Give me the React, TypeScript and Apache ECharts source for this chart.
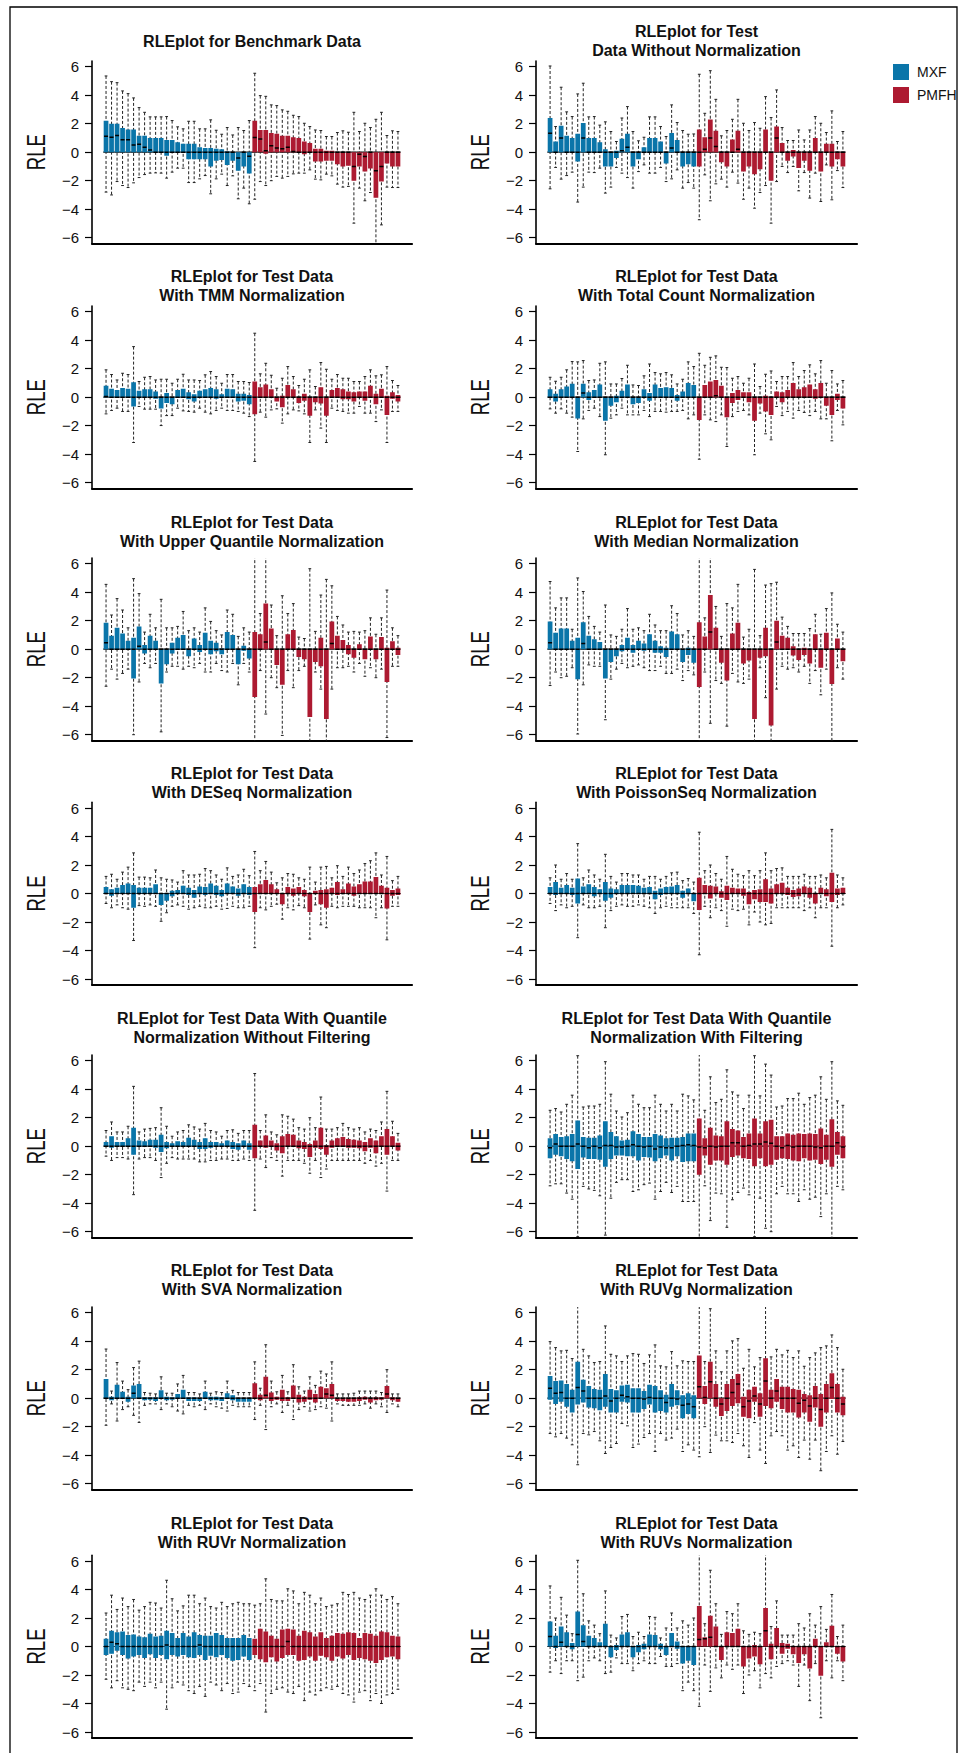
import React, { useEffect, useRef } from 'react';
import * as echarts from 'echarts';

// ---------- data: each box is [min, Q1, median, Q3, max]; first 27 = MXF, last 27 = PMFH ----------
const groups = ['MXF', 'PMFH'];
const MXF_COUNT = 27;
const yTicks = [-6, -4, -2, 0, 2, 4, 6];
const yLabel = 'RLE';

const titles: string[][] = [
  ['RLEplot for Benchmark Data'],
  ['RLEplot for Test', 'Data Without Normalization'],
  ['RLEplot for Test Data', 'With TMM Normalization'],
  ['RLEplot for Test Data', 'With Total Count Normalization'],
  ['RLEplot for Test Data', 'With Upper Quantile Normalization'],
  ['RLEplot for Test Data', 'With Median Normalization'],
  ['RLEplot for Test Data', 'With DESeq Normalization'],
  ['RLEplot for Test Data', 'With PoissonSeq Normalization'],
  ['RLEplot for Test Data With Quantile', 'Normalization Without Filtering'],
  ['RLEplot for Test Data With Quantile', 'Normalization With Filtering'],
  ['RLEplot for Test Data', 'With SVA Normalization'],
  ['RLEplot for Test Data', 'With RUVg Normalization'],
  ['RLEplot for Test Data', 'With RUVr Normalization'],
  ['RLEplot for Test Data', 'With RUVs Normalization'],
];

const benchmark = [
  [-2.8, 0, 1.12, 2.2, 5.35], [-3.0, 0, 1.05, 2.0, 4.95], [-2.06, 0, 1.17, 2.0, 4.88], [-2.34, 0, 0.87, 1.7, 4.3],
  [-2.48, 0, 0.87, 1.6, 4.11], [-2.15, 0, 0.5, 1.6, 3.81], [-1.78, 0, 0.55, 1.15, 3.13], [-1.57, 0, 0.35, 1.15, 2.8],
  [-1.47, 0, 0.15, 1.0, 2.48], [-1.45, 0, 0, 1.0, 2.48], [-1.47, 0, 0, 1.0, 2.48], [-1.82, -0.25, 0, 0.85, 2.5],
  [-1.4, 0, 0, 0.85, 2.22], [-1.12, 0, 0, 0.7, 1.78], [-1.12, 0, 0, 0.6, 1.64], [-2.13, -0.5, 0, 0.6, 2.17],
  [-2.13, -0.5, 0, 0.6, 2.17], [-1.87, -0.5, 0, 0.35, 1.64], [-1.64, -0.5, 0, 0.3, 1.64], [-2.92, -1.0, 0, 0.3, 2.27],
  [-1.87, -0.6, 0, 0.25, 1.54], [-1.54, -0.55, 0, 0.2, 1.26], [-2.34, -0.9, 0, 0.05, 1.73], [-1.66, -0.6, 0, 0, 1.21],
  [-3.27, -1.3, -0.4, 0, 1.73], [-2.52, -1.0, 0, 0, 1.52], [-3.62, -1.5, -0.28, 0, 2.22],
  [-3.3, 0, 1.03, 2.2, 5.54], [-2.06, 0, 0.93, 1.55, 3.97], [-2.34, -0.1, 0.1, 1.55, 3.92], [-2.0, 0, 0.45, 1.35, 3.32],
  [-1.7, 0, 0.3, 1.3, 3.27], [-1.82, 0, 0.25, 1.15, 2.97], [-1.7, 0, 0.35, 1.15, 2.87], [-1.52, 0, 0.05, 1.05, 2.59],
  [-1.47, 0, 0, 1.0, 2.5], [-1.47, -0.15, 0, 0.75, 2.03], [-1.24, 0, 0, 0.65, 1.8], [-1.89, -0.65, 0, 0.25, 1.56],
  [-1.94, -0.65, 0, 0.25, 1.52], [-1.54, -0.6, 0, 0.1, 1.1], [-1.66, -0.6, 0, 0.1, 1.1], [-2.24, -0.85, 0, 0, 1.38],
  [-2.45, -1.0, 0, 0, 1.5], [-2.4, -0.95, 0, 0, 1.4], [-4.98, -2.0, -1.0, 0, 2.8], [-2.52, -1.0, -0.15, 0, 1.45],
  [-3.41, -1.35, -0.3, 0, 2.03], [-2.83, -1.15, 0, 0, 1.73], [-6.6, -3.2, -1.3, 0, 2.31], [-5.1, -2.05, -1.0, 0, 2.8],
  [-2.45, -0.8, 0, 0, 1.17], [-2.48, -1.0, 0, 0, 1.5], [-2.48, -1.0, 0, 0, 1.45],
];

const noNormalization = [
  [-2.57, 0, 1.33, 2.4, 6.05], [-1.07, 0, 0, 0.75, 1.8], [-1.89, 0, 1.0, 1.85, 4.56], [-1.64, 0, 0, 1.15, 2.83],
  [-1.4, 0, 0, 1.0, 2.5], [-3.5, -0.65, 0, 1.3, 4.09], [-2.45, 0, 1.0, 2.05, 4.84], [-1.4, 0, 0, 1.0, 2.48],
  [-1.43, 0, 0, 1.0, 2.5], [-1.12, 0, 0, 0.7, 1.9], [-2.87, -1.0, 0, 0.2, 2.13], [-2.45, -1.0, 0, 0, 1.45],
  [-1.07, -0.4, 0, 0.1, 0.75], [-1.47, 0, 0.1, 0.95, 2.4], [-1.78, 0, 0.35, 1.3, 3.2], [-2.52, -1.0, 0, 0, 1.45],
  [-1.36, -0.5, 0, 0, 0.8], [-0.89, 0, 0, 0.35, 1.05], [-1.47, 0, 0, 1.0, 2.48], [-1.47, 0, 0, 1.0, 2.48],
  [-1.07, 0, 0, 0.75, 1.8], [-2.06, -0.8, 0, 0, 1.1], [-1.87, 0, 0.3, 1.35, 3.32], [-1.24, 0, 0, 0.85, 2.08],
  [-2.52, -1.0, 0, 0, 1.52], [-2.13, -0.85, 0, 0, 1.26], [-2.52, -1.0, 0, 0, 1.28],
  [-4.74, -1.0, 0, 1.6, 5.47], [-1.59, 0, 0.2, 1.05, 2.73], [-3.41, 0, 1.0, 2.3, 5.72], [-2.22, 0, 0.4, 1.5, 3.71],
  [-1.89, -0.7, 0, 0, 1.15], [-2.45, -1.0, 0, 0, 1.52], [-1.4, 0, 0, 0.9, 2.31], [-2.17, 0, 0.2, 1.5, 3.71],
  [-3.3, -1.35, 0, 0, 2.03], [-2.52, -1.0, 0, 0, 1.52], [-3.93, -1.55, 0, 0, 2.08], [-2.83, -1.2, 0, 0, 1.68],
  [-2.34, 0, 0, 1.6, 3.9], [-4.98, -2.0, 0, 0, 2.43], [-2.06, 0, 1.0, 1.8, 4.37], [-1.0, 0, 0, 0.65, 1.73],
  [-1.43, -0.6, 0, 0, 0.82], [-1.0, -0.3, 0, 0.15, 0.82], [-2.71, -1.1, 0, 0, 1.56], [-1.43, -0.6, 0, 0, 0.86],
  [-3.22, -1.3, 0, 0, 1.56], [-1.47, 0, 0, 1.0, 2.5], [-3.46, -1.35, 0, 0, 2.03], [-0.89, 0, 0, 0.6, 1.38],
  [-3.34, -1.0, 0, 0.6, 2.9], [-1.29, -0.5, 0, 0, 0.75], [-2.48, -1.0, 0, 0, 1.45],
];

const tmm = [
  [-1.17, 0, 0.05, 0.8, 1.92], [-0.93, 0, 0, 0.6, 1.59], [-0.77, 0, 0, 0.5, 1.21], [-1.0, 0, 0, 0.65, 1.68],
  [-1.0, 0, 0, 0.6, 1.59], [-3.18, -0.65, 0, 1.05, 3.55], [-0.65, 0, 0, 0.45, 1.1], [-0.84, 0, 0, 0.55, 1.4],
  [-0.84, 0, 0, 0.55, 1.45], [-0.84, -0.1, 0, 0.4, 1.21], [-1.99, -0.8, 0, 0, 1.26], [-1.29, -0.4, 0, 0.3, 1.26],
  [-1.29, -0.5, 0, 0, 0.98], [-0.77, 0, 0, 0.5, 1.26], [-0.96, 0, 0, 0.6, 1.61], [-1.0, -0.15, 0, 0.35, 1.21],
  [-1.05, -0.3, 0, 0.2, 1.21], [-0.77, 0, 0, 0.45, 1.17], [-1.05, 0, 0, 0.55, 1.57], [-1.17, 0, 0, 0.65, 1.8],
  [-0.93, -0.1, 0, 0.55, 1.45], [-0.77, 0, 0, 0.2, 0.98], [-0.93, 0, 0, 0.6, 1.59], [-0.93, 0, 0, 0.55, 1.59],
  [-1.0, -0.3, 0, 0.25, 1.1], [-1.12, -0.25, 0, 0.25, 1.1], [-1.36, -0.5, 0, 0.15, 1.03],
  [-4.51, -1.2, 0, 1.1, 4.49], [-1.05, 0, 0, 0.7, 1.64], [-1.4, 0, 0, 0.9, 2.38], [-0.89, 0, 0, 0.55, 1.54],
  [-0.82, -0.3, 0, 0, 0.63], [-1.82, -0.7, 0, 0.1, 1.33], [-1.17, 0, 0, 0.85, 2.15], [-0.89, 0, 0, 0.55, 1.45],
  [-0.96, -0.4, 0, 0, 0.82], [-1.17, -0.25, 0, 0.25, 1.26], [-3.18, -1.3, 0, 0, 1.92], [-0.89, -0.35, 0, 0, 0.75],
  [-2.17, -0.45, 0, 0.7, 2.43], [-3.18, -1.3, 0, 0, 1.96], [-0.77, 0, 0, 0.5, 1.26], [-0.93, 0, 0, 0.65, 1.59],
  [-1.0, -0.15, 0, 0.55, 1.33], [-1.12, -0.15, 0, 0.4, 1.33], [-1.12, -0.3, 0, 0.35, 1.1], [-0.65, 0, 0, 0.4, 1.1],
  [-1.12, -0.25, 0, 0.4, 1.45], [-1.12, 0, 0, 0.8, 1.92], [-1.71, -0.5, 0, 0.25, 1.5], [-0.89, 0, 0, 0.6, 1.57],
  [-3.18, -1.25, 0, 0.1, 2.15], [-1.0, -0.1, 0, 0.35, 1.17], [-1.0, -0.3, 0, 0.15, 0.82],
];

const totalCount = [
  [-0.82, 0, 0, 0.55, 1.4], [-1.12, -0.3, 0, 0.25, 1.12], [-0.82, 0, 0, 0.55, 1.4], [-1.12, 0, 0, 0.75, 1.92],
  [-1.4, 0, 0, 0.95, 2.5], [-3.81, -1.5, 0, 0, 2.48], [-1.52, 0, 0.3, 0.95, 2.57], [-0.93, -0.2, 0, 0.35, 1.17],
  [-0.77, 0, 0, 0.5, 1.21], [-1.36, 0, 0, 0.9, 2.38], [-4.04, -1.65, 0, 0, 2.48], [-1.47, -0.6, 0, 0, 0.93],
  [-1.24, -0.35, 0, 0.1, 0.93], [-0.77, 0, 0, 0.45, 1.31], [-1.24, 0, 0, 0.9, 2.24], [-1.24, -0.5, 0, 0, 0.86],
  [-1.24, -0.4, 0, 0, 0.82], [-0.93, 0, 0, 0.55, 1.5], [-1.36, -0.25, 0, 0.3, 2.33], [-1.0, 0, 0, 0.9, 1.73],
  [-1.0, 0, 0, 0.65, 1.64], [-1.05, 0, 0, 0.7, 1.73], [-1.0, 0, 0, 0.65, 1.57], [-1.0, -0.25, 0, 0.15, 0.93],
  [-0.93, 0, 0, 0.4, 1.26], [-1.52, 0, 0, 1.0, 2.48], [-1.24, 0, 0, 0.85, 2.15],
  [-4.35, -1.6, 0, 0, 3.08], [-1.24, 0, 0, 0.85, 2.24], [-1.59, 0, 0, 1.1, 2.8], [-1.71, 0, 0.1, 1.2, 2.9],
  [-1.24, 0, 0, 0.8, 2.1], [-3.46, -1.4, 0, 0, 2.08], [-1.36, -0.4, 0, 0.3, 1.33], [-1.0, -0.2, 0, 0.5, 1.45],
  [-0.93, 0, 0, 0.35, 0.98], [-1.24, -0.35, 0, 0.35, 1.33], [-4.04, -1.65, 0, 0, 2.33], [-1.12, -0.45, 0, 0, 0.75],
  [-2.57, -1.0, 0, 0.1, 1.61], [-2.99, -1.25, 0, 0, 1.84], [-0.65, 0, 0, 0.4, 1.1], [-1.29, -0.35, 0, 0.35, 1.45],
  [-1.0, 0, 0, 0.5, 1.45], [-1.47, 0, 0, 1.0, 2.43], [-0.93, 0, 0, 0.55, 1.45], [-1.07, 0, 0, 0.7, 1.87],
  [-1.29, 0, 0, 0.9, 2.27], [-1.0, -0.1, 0, 0.55, 1.64], [-1.52, 0, 0, 1.0, 2.57], [-1.52, -0.6, 0, 0, 0.98],
  [-3.06, -1.25, 0, 0, 1.87], [-0.93, -0.2, 0, 0.25, 0.93], [-1.94, -0.8, 0, 0, 1.17],
];

const upperQuantile = [
  [-2.6, 0, 0.45, 1.85, 4.55], [-1.4, 0, 0, 0.95, 2.4], [-2.1, 0, 0, 1.5, 3.55], [-1.7, 0, 0, 1.1, 2.75],
  [-1.4, 0, 0, 0.6, 1.5], [-6.0, -2.05, 0, 0.8, 4.95], [-2.3, 0, 0.2, 1.6, 3.9], [-1.0, -0.3, 0, 0.3, 1.2],
  [-1.3, 0, 0, 0.95, 2.45], [-1.0, 0, 0, 0.6, 1.5], [-5.8, -2.4, 0, 0, 3.5], [-1.6, -1.05, 0, 0, 1.5],
  [-1.2, -0.3, 0, 0.45, 1.5], [-1.2, 0, 0, 0.8, 1.6], [-1.4, 0, 0, 1.0, 2.65], [-1.2, -0.5, 0, 0, 1.3],
  [-1.3, 0, 0, 0.75, 1.5], [-1.0, -0.2, 0, 0.3, 1.2], [-1.6, 0, 0, 1.15, 2.9], [-1.6, -0.35, 0, 0.6, 1.95],
  [-1.0, -0.15, 0, 0.45, 1.3], [-1.5, -0.35, 0, 0.05, 1.0], [-1.6, 0, 0, 1.2, 2.75], [-1.0, 0, 0, 1.0, 2.45],
  [-2.5, -1.05, 0, 0, 0.9], [-1.0, -0.1, 0, 0.25, 1.5], [-1.6, -0.65, 0, 0, 1.2],
  [-6.6, -3.35, 0, 1.2, 6.6], [-1.5, 0, 0, 1.05, 2.5], [-4.55, 0, 0.5, 3.2, 6.6], [-2.0, 0, 0, 1.45, 3.1],
  [-2.7, -1.1, 0, 0, 0.95], [-6.05, -2.5, 0, 0, 3.75], [-1.5, 0, 0, 1.05, 2.5], [-2.7, 0, 0, 1.35, 3.2],
  [-1.5, -0.55, 0, 0, 0.85], [-1.2, -0.7, 0, 0, 0.75], [-6.6, -4.75, 0, 0, 5.65], [-1.6, -0.9, 0, 0, 1.25],
  [-2.8, -1.2, 0, 0.8, 3.8], [-6.6, -4.9, 0, 0, 4.9], [-2.8, 0, 0.4, 1.95, 4.45], [-1.3, 0, 0, 0.95, 2.3],
  [-1.3, 0, 0, 0.65, 1.7], [-1.2, -0.35, 0, 0.3, 1.2], [-1.6, -0.6, 0, 0, 1.25], [-1.0, 0, 0, 0.35, 1.2],
  [-1.9, -0.7, 0, 0, 1.3], [-1.3, 0, 0, 0.9, 2.2], [-2.0, -0.7, 0, 0, 1.05], [-1.4, 0, 0, 0.85, 2.2],
  [-6.2, -2.3, 0, 0.1, 4.15], [-1.2, 0, 0, 0.55, 1.5], [-1.2, -0.4, 0, 0.1, 0.95],
];

const medianNorm = [
  [-2.55, 0, 0.45, 1.95, 4.75], [-1.6, 0, 0, 1.15, 2.9], [-2.0, 0, 0, 1.45, 3.6], [-1.9, 0, 0, 1.45, 3.6],
  [-1.3, 0, 0, 0.6, 1.4], [-5.95, -2.1, 0, 0.8, 5.0], [-2.5, 0, 0.4, 1.9, 4.05], [-1.1, 0, 0, 0.95, 2.3],
  [-1.2, 0, 0, 0.7, 1.6], [-1.2, 0, 0, 0.5, 1.2], [-4.95, -2.05, 0, 0, 3.1], [-2.1, -0.9, 0, 0, 1.0],
  [-1.4, -0.5, 0, 0, 0.9], [-1.0, -0.15, 0, 0.3, 1.4], [-1.3, 0, 0, 0.8, 2.85], [-1.2, -0.25, 0, 0.3, 1.4],
  [-1.1, 0, 0, 0.6, 1.5], [-1.3, -0.1, 0, 0.4, 1.3], [-1.5, 0, 0, 1.05, 2.45], [-1.5, -0.25, 0, 0.6, 1.7],
  [-1.2, -0.25, 0, 0.2, 1.3], [-1.7, -0.55, 0, 0.1, 1.3], [-1.7, 0, 0, 1.25, 3.05], [-1.4, 0, 0, 1.05, 2.5],
  [-2.2, -0.9, 0, 0, 1.0], [-1.5, -0.4, 0, 0.1, 1.3], [-1.8, -0.95, 0, 0, 0.9],
  [-6.6, -2.65, 0, 1.9, 6.6], [-1.6, 0, 0, 0.9, 2.2], [-5.2, 0, 1.2, 3.8, 6.6], [-2.2, 0, 0, 1.5, 3.0],
  [-2.4, -0.95, 0, 0, 0.9], [-5.4, -2.2, 0, 0, 3.2], [-1.7, 0, 0, 1.1, 2.9], [-2.3, 0, 0, 1.85, 4.55],
  [-2.4, -1.0, 0, 0, 0.85], [-2.1, -0.8, 0, 0, 1.4], [-6.5, -4.9, 0, 0, 5.6], [-1.3, -0.6, 0, 0, 0.95],
  [-3.4, -0.5, 0, 1.5, 4.5], [-6.6, -5.35, 0, 0, 4.6], [-2.8, 0, 0.5, 2.0, 4.7], [-1.2, 0, 0, 0.95, 2.25],
  [-1.4, 0, 0, 0.8, 1.6], [-1.3, -0.45, 0, 0.2, 1.1], [-1.6, -0.75, 0, 0, 1.1], [-1.2, -0.4, 0, 0.1, 1.1],
  [-2.4, -1.0, 0, 0, 1.45], [-1.5, 0, 0, 1.05, 2.45], [-3.2, -1.3, 0, 0, 1.05], [-1.4, 0, 0, 1.15, 2.85],
  [-6.4, -2.45, 0, 0, 3.95], [-1.3, 0, 0, 0.75, 1.75], [-2.1, -0.85, 0, 0, 1.2],
];

const deseq = [
  [-0.7, 0, 0, 0.45, 1.2], [-1.0, -0.15, 0, 0.3, 1.35], [-0.8, 0, 0, 0.4, 1.0], [-1.0, 0, 0, 0.6, 1.5],
  [-1.1, 0, 0, 0.7, 1.85], [-3.3, -1.0, 0, 0.6, 2.85], [-0.85, 0, 0, 0.4, 1.15], [-0.9, 0, 0, 0.4, 1.15],
  [-0.8, 0, 0, 0.4, 1.1], [-0.9, 0, 0, 0.65, 1.65], [-1.95, -0.8, 0, 0, 1.1], [-1.35, -0.5, 0, 0, 1.0],
  [-0.9, -0.2, 0, 0.2, 0.95], [-0.8, 0, 0, 0.25, 0.8], [-0.9, 0, 0, 0.55, 1.6], [-1.1, -0.1, 0, 0.4, 1.3],
  [-1.0, -0.3, 0, 0.25, 1.3], [-0.9, 0, 0, 0.5, 1.35], [-1.0, -0.1, 0, 0.45, 1.75], [-1.0, 0, 0, 0.7, 1.6],
  [-0.9, -0.1, 0, 0.55, 1.3], [-1.1, -0.2, 0, 0.25, 1.0], [-1.05, 0, 0, 0.7, 1.8], [-0.9, 0, 0, 0.5, 1.2],
  [-1.0, -0.15, 0, 0.35, 1.3], [-1.0, 0, 0, 0.65, 1.7], [-0.9, -0.1, 0, 0.45, 1.25],
  [-3.8, -1.3, 0, 0.45, 2.95], [-1.0, 0, 0, 0.65, 1.6], [-1.15, 0, 0, 0.95, 2.25], [-0.9, 0, 0, 0.65, 1.5],
  [-0.75, 0, 0, 0.3, 0.75], [-1.8, -0.75, 0, 0, 1.1], [-1.0, 0, 0, 0.45, 1.4], [-1.15, -0.15, 0, 0.35, 1.35],
  [-0.85, 0, 0, 0.45, 1.1], [-1.0, -0.2, 0, 0.25, 1.0], [-3.2, -1.3, 0, 0, 1.85], [-0.8, 0, 0, 0.2, 0.8],
  [-2.2, -0.75, 0, 0.25, 1.85], [-2.4, -1.0, 0, 0.3, 1.9], [-0.9, 0, 0, 0.4, 1.1], [-1.0, -0.1, 0, 0.8, 1.95],
  [-0.9, 0, 0, 0.3, 1.2], [-0.9, 0, 0, 0.7, 1.85], [-0.9, -0.15, 0, 0.5, 1.4], [-1.0, 0, 0, 0.65, 1.65],
  [-1.0, 0, 0, 0.85, 2.1], [-1.0, 0, 0, 0.85, 2.3], [-1.7, 0, 0, 1.15, 2.85], [-1.0, 0, 0, 0.55, 1.3],
  [-3.25, -1.05, 0, 0.4, 2.6], [-0.9, -0.15, 0, 0.25, 0.9], [-0.9, -0.1, 0, 0.35, 1.2],
];

const poissonSeq = [
  [-0.7, 0, 0, 0.45, 1.1], [-1.2, -0.1, 0, 0.8, 2.0], [-0.8, 0, 0, 0.4, 1.0], [-1.0, 0, 0, 0.6, 1.4],
  [-0.9, -0.1, 0, 0.4, 1.0], [-3.1, -0.7, 0, 1.05, 3.5], [-0.8, 0, 0, 0.5, 1.1], [-1.0, 0, 0, 0.65, 1.65],
  [-1.0, -0.2, 0, 0.45, 1.3], [-0.9, 0, 0, 0.3, 1.0], [-2.4, -0.5, 0, 0.8, 2.75], [-1.2, -0.3, 0, 0.35, 1.2],
  [-0.9, 0, 0, 0.3, 0.8], [-0.8, 0, 0, 0.6, 1.4], [-0.9, 0, 0, 0.6, 1.4], [-0.9, 0, 0, 0.6, 1.3],
  [-0.8, 0, 0, 0.55, 1.3], [-0.9, 0, 0, 0.4, 1.0], [-1.0, 0, 0, 0.45, 1.2], [-1.4, -0.4, 0, 0.2, 1.2],
  [-1.0, -0.1, 0, 0.35, 1.0], [-0.9, 0, 0, 0.45, 1.2], [-1.0, 0, 0, 0.5, 1.45], [-1.0, 0, 0, 0.6, 1.5],
  [-1.0, -0.3, 0, 0.2, 0.9], [-1.0, 0, 0, 0.35, 1.05], [-1.4, -0.55, 0, 0, 0.8],
  [-4.3, -1.15, 0, 1.1, 4.3], [-0.9, 0, 0, 0.6, 1.6], [-1.7, -0.35, 0, 0.55, 2.0], [-1.0, 0, 0, 0.5, 1.4],
  [-1.2, -0.3, 0, 0.15, 1.0], [-2.3, -0.45, 0, 0.55, 2.6], [-1.1, 0, 0, 0.4, 1.7], [-1.2, 0, 0, 0.35, 1.35],
  [-1.1, -0.15, 0, 0.35, 1.25], [-2.2, -0.75, 0, 0.1, 1.6], [-1.3, -0.4, 0, 0.25, 1.25], [-2.0, -0.6, 0, 0.3, 1.6],
  [-2.2, -0.6, 0, 1.0, 2.85], [-2.1, -0.7, 0, 0.35, 1.6], [-1.0, 0, 0, 0.65, 1.75], [-1.0, 0, 0, 0.75, 1.8],
  [-1.0, -0.1, 0, 0.4, 1.2], [-1.0, -0.25, 0, 0.25, 1.2], [-1.0, -0.2, 0, 0.35, 1.2], [-1.2, 0, 0, 0.5, 1.35],
  [-1.0, -0.3, 0, 0.4, 1.2], [-1.7, -0.7, 0, 0, 1.2], [-1.0, 0, 0, 0.4, 1.3], [-1.0, -0.2, 0, 0.3, 1.1],
  [-3.7, -0.6, 0, 1.45, 4.5], [-1.0, -0.1, 0, 0.35, 1.3], [-0.8, 0, 0, 0.4, 1.1],
];

const quantileNoFilter = [
  [-0.7, 0, 0, 0.3, 1.1], [-1.0, -0.1, 0, 0.7, 1.7], [-0.8, 0, 0, 0.3, 1.0], [-0.8, 0, 0, 0.3, 1.0],
  [-0.9, 0, 0, 0.55, 1.4], [-3.4, -0.6, 0, 1.3, 4.2], [-0.9, 0, 0, 0.4, 1.0], [-0.8, 0, 0, 0.35, 1.2],
  [-0.8, 0, 0, 0.45, 1.25], [-1.0, -0.1, 0, 0.45, 1.3], [-2.2, -0.4, 0, 0.8, 2.7], [-1.2, -0.15, 0, 0.3, 1.4],
  [-0.8, 0, 0, 0.2, 0.7], [-0.9, 0, 0, 0.35, 1.0], [-0.9, 0, 0, 0.3, 1.1], [-0.9, 0, 0, 0.6, 1.5],
  [-0.9, 0, 0, 0.45, 1.35], [-1.1, -0.2, 0, 0.3, 1.2], [-1.1, -0.2, 0, 0.55, 1.6], [-1.0, -0.1, 0, 0.3, 1.1],
  [-1.0, 0, 0, 0.3, 1.0], [-0.9, 0, 0, 0.2, 0.7], [-0.9, 0, 0, 0.4, 1.1], [-1.0, -0.2, 0, 0.3, 1.15],
  [-1.0, -0.25, 0, 0.2, 0.9], [-0.9, 0, 0, 0.4, 1.1], [-1.0, -0.25, 0, 0.2, 1.1],
  [-4.5, -0.85, 0, 1.5, 5.1], [-0.9, 0, 0, 0.4, 1.1], [-1.5, -0.1, 0, 0.75, 2.2], [-0.8, 0, 0, 0.4, 1.0],
  [-1.0, -0.3, 0, 0.2, 0.8], [-2.1, -0.5, 0, 0.7, 2.2], [-1.0, 0, 0, 0.85, 2.1], [-1.0, 0, 0, 0.8, 1.9],
  [-1.0, -0.15, 0, 0.4, 1.3], [-1.2, -0.2, 0, 0.3, 1.2], [-1.9, -0.75, 0, 0.15, 2.0], [-1.0, -0.1, 0, 0.4, 1.3],
  [-2.2, -0.2, 0, 1.3, 3.45], [-1.6, -0.6, 0, 0.05, 1.2], [-1.0, -0.1, 0, 0.4, 1.2], [-1.0, 0, 0, 0.55, 1.3],
  [-1.0, 0, 0, 0.65, 1.6], [-1.0, -0.1, 0, 0.5, 1.3], [-1.0, -0.1, 0, 0.45, 1.2], [-1.0, -0.15, 0, 0.4, 1.3],
  [-1.2, -0.35, 0, 0.3, 1.0], [-1.0, -0.1, 0, 0.55, 1.2], [-1.4, -0.5, 0, 0.4, 1.1], [-1.2, 0, 0, 0.7, 1.7],
  [-3.15, -0.6, 0, 1.2, 3.85], [-1.0, 0, 0, 0.7, 1.75], [-1.0, -0.3, 0, 0.25, 0.9],
];

const quantileFilter = [
  [-2.78, -0.85, -0.1, 0.55, 2.52], [-2.64, -0.6, 0.15, 0.85, 2.64], [-2.64, -0.7, 0, 0.65, 2.4], [-3.29, -0.9, 0, 0.7, 2.94],
  [-3.72, -1.05, 0, 0.85, 3.58], [-6.35, -1.6, 0.15, 1.8, 6.35], [-2.82, -0.8, 0, 0.65, 2.75], [-3.0, -0.9, -0.1, 0.6, 2.82],
  [-3.1, -0.9, 0, 0.6, 2.82], [-3.48, -0.95, -0.1, 0.75, 2.94], [-6.24, -1.45, 0.05, 1.75, 5.93], [-3.65, -0.9, 0.05, 1.0, 3.65],
  [-2.54, -0.65, -0.05, 0.7, 2.47], [-2.35, -0.65, -0.05, 0.4, 2.05], [-2.35, -0.7, 0, 0.45, 2.35], [-3.18, -0.7, 0.1, 1.05, 3.58],
  [-3.06, -1.0, 0, 0.85, 2.94], [-2.7, -0.75, -0.05, 0.65, 2.7], [-2.59, -0.8, 0, 0.65, 2.7], [-3.72, -1.05, -0.2, 0.85, 3.58],
  [-3.18, -0.85, -0.05, 0.75, 2.94], [-2.54, -0.65, -0.1, 0.55, 2.47], [-3.25, -1.0, -0.1, 0.6, 2.94], [-2.82, -0.7, 0, 0.6, 2.47],
  [-3.88, -1.1, 0.05, 0.65, 3.65], [-3.88, -1.05, 0.1, 0.9, 3.53], [-3.88, -1.05, 0.05, 0.9, 3.25],
  [-6.5, -2.0, -0.05, 1.95, 6.5], [-2.78, -0.65, -0.1, 0.55, 2.52], [-5.22, -1.3, 0, 1.3, 4.87], [-3.29, -1.0, -0.05, 0.75, 3.06],
  [-3.34, -1.0, 0, 0.7, 3.29], [-5.69, -1.3, 0, 1.75, 5.36], [-3.76, -0.75, 0.25, 1.2, 3.81], [-3.25, -0.65, 0.25, 1.1, 3.58],
  [-2.94, -0.85, 0, 0.65, 2.64], [-3.41, -0.9, 0.05, 0.9, 3.58], [-6.35, -1.4, 0.15, 1.95, 6.35], [-3.65, -0.85, 0.15, 0.9, 3.53],
  [-5.76, -1.4, 0.3, 1.75, 5.76], [-6.0, -1.3, 0.2, 1.85, 4.99], [-3.34, -0.95, 0, 0.7, 2.75], [-2.82, -0.85, -0.1, 0.7, 2.82],
  [-3.34, -0.9, 0.05, 0.9, 3.34], [-3.34, -1.0, -0.05, 0.8, 3.34], [-3.88, -1.05, 0, 0.9, 3.72], [-3.06, -0.85, 0, 0.85, 2.94],
  [-3.72, -1.0, 0, 0.9, 3.41], [-3.58, -0.95, -0.05, 0.85, 3.58], [-4.94, -1.25, -0.1, 1.25, 4.87], [-3.34, -0.95, 0, 0.8, 3.29],
  [-6.4, -1.45, 0, 1.9, 5.93], [-2.82, -0.6, 0.25, 1.0, 3.18], [-3.06, -0.85, -0.05, 0.7, 2.87],
];

const sva = [
  [-1.9, 0, 0, 1.35, 3.45], [-0.4, -0.15, 0, 0.1, 0.5], [-1.6, 0, 0, 0.95, 2.5], [-0.8, 0, 0, 0.45, 1.2],
  [-0.6, -0.25, 0, 0.1, 0.6], [-1.2, 0, 0.35, 0.9, 2.15], [-1.7, 0, 0, 1.0, 2.6], [-0.5, -0.15, 0, 0.05, 0.4],
  [-0.4, -0.1, 0, 0.05, 0.35], [-0.4, -0.2, 0, 0.05, 0.3], [-0.8, 0, 0, 0.55, 1.5], [-0.4, -0.15, 0, 0.1, 0.35],
  [-0.6, -0.1, 0, 0.05, 0.35], [-0.9, 0, 0, 0.3, 1.0], [-1.1, 0, 0, 0.6, 1.6], [-0.5, -0.2, 0, 0.05, 0.4],
  [-0.6, -0.2, 0, 0.05, 0.4], [-0.5, -0.2, 0, 0, 0.3], [-0.8, 0, 0, 0.45, 1.2], [-0.4, -0.15, 0, 0.1, 0.35],
  [-0.6, -0.15, 0, 0.1, 0.45], [-0.7, -0.2, 0, 0.05, 0.4], [-0.9, 0, 0, 0.35, 1.2], [-0.5, -0.15, 0, 0.2, 0.55],
  [-0.6, -0.25, 0, 0, 0.4], [-0.6, -0.25, 0, 0, 0.4], [-0.6, -0.25, 0, 0, 0.4],
  [-1.5, 0, 0, 1.05, 2.55], [-0.5, -0.15, 0, 0.25, 0.7], [-2.2, 0, 0.2, 1.5, 3.75], [-0.6, -0.2, 0, 0.4, 1.2],
  [-0.4, -0.1, 0, 0.1, 0.45], [-1.0, -0.2, 0, 0.6, 1.6], [-0.5, -0.2, 0, 0.05, 0.45], [-1.5, 0, 0, 0.9, 2.35],
  [-0.8, -0.3, 0, 0.25, 0.8], [-0.6, -0.25, 0, 0.1, 0.5], [-0.9, -0.1, 0, 0.6, 1.5], [-0.8, -0.3, 0, 0.3, 0.9],
  [-0.6, 0, 0, 0.8, 1.9], [-0.7, 0, 0.3, 0.7, 1.7], [-1.6, 0, 0.2, 1.0, 2.55], [-0.4, -0.2, 0, 0, 0.3],
  [-0.5, -0.2, 0, 0, 0.3], [-0.5, -0.25, 0, 0, 0.3], [-0.5, -0.25, 0, 0, 0.35], [-0.5, -0.2, 0, 0.05, 0.5],
  [-0.4, -0.1, 0, 0.1, 0.5], [-0.7, -0.3, 0, 0, 0.5], [-0.4, -0.15, 0, 0.05, 0.5], [-0.6, -0.1, 0, 0.05, 0.4],
  [-1.0, 0, 0.3, 0.85, 2.0], [-0.4, -0.15, 0, 0.05, 0.3], [-0.6, -0.25, 0, 0, 0.3],
];

const ruvg = [
  [-2.48, -0.1, 0.7, 1.55, 3.97], [-2.71, -0.4, 0.35, 1.2, 3.55], [-2.48, -0.25, 0.4, 1.25, 3.32], [-2.8, -0.6, 0, 1.0, 3.36],
  [-3.27, -1.0, 0, 0.6, 2.78], [-4.67, -0.45, 0.75, 2.55, 6.5], [-2.48, -0.3, 0.5, 1.3, 3.43], [-2.57, -0.65, 0, 0.85, 2.97],
  [-2.34, -0.7, 0, 0.65, 2.5], [-2.99, -0.85, 0, 0.6, 2.57], [-3.88, -0.6, 0.15, 1.7, 5.07], [-3.46, -1.0, -0.2, 0.65, 3.08],
  [-3.18, -1.0, 0, 0.55, 2.97], [-1.78, -0.25, 0.2, 0.9, 2.57], [-1.94, -0.3, 0.1, 0.95, 2.97], [-3.46, -1.0, 0, 0.7, 3.13],
  [-3.22, -1.0, 0, 0.7, 3.08], [-2.76, -0.75, -0.05, 0.5, 2.43], [-2.48, -0.45, 0.05, 0.95, 3.04], [-3.74, -1.0, 0, 0.85, 3.74],
  [-2.48, -0.9, 0, 0.55, 2.27], [-2.94, -1.0, -0.3, 0.25, 2.2], [-2.8, -0.6, 0, 1.0, 3.27], [-2.17, -0.5, -0.05, 0.55, 2.27],
  [-3.74, -1.4, -0.5, 0.2, 2.62], [-3.27, -1.1, -0.4, 0.35, 2.57], [-3.64, -1.4, -0.6, 0.2, 2.57],
  [-4.11, 0, 0.8, 3.0, 6.47], [-2.0, -0.4, 0.05, 0.85, 2.57], [-3.81, 0, 1.15, 2.55, 6.28], [-2.59, -0.6, 0, 1.0, 3.32],
  [-2.99, -1.25, -0.4, 0, 1.85], [-2.99, -0.9, 0, 1.0, 3.32], [-3.11, -0.55, 0.4, 1.35, 4.02], [-2.48, -0.35, 1.0, 1.7, 4.18],
  [-3.34, -1.3, -0.6, 0.1, 2.1], [-4.16, -1.4, -0.2, 0.6, 3.43], [-1.71, -0.25, 0.15, 0.8, 2.2], [-3.64, -1.3, -0.4, 0.35, 2.85],
  [-4.58, -0.55, 1.2, 2.8, 6.47], [-2.64, -0.7, 0, 0.6, 2.9], [-2.34, -0.25, 0.5, 1.35, 3.43], [-2.64, -0.75, 0, 0.8, 3.04],
  [-3.64, -1.0, 0, 0.8, 3.36], [-3.34, -1.0, 0, 0.65, 2.85], [-4.16, -1.35, -0.35, 0.6, 3.32], [-2.94, -1.0, -0.15, 0.3, 2.24],
  [-4.28, -1.65, -0.55, 0.2, 2.85], [-2.94, -0.65, 0, 0.85, 3.18], [-5.09, -2.0, -0.8, 0.3, 3.55], [-3.74, -1.0, 0, 1.0, 3.67],
  [-2.64, -0.05, 0.75, 1.75, 4.44], [-3.93, -1.0, 0, 1.0, 3.55], [-3.04, -1.2, -0.4, 0.1, 2.03],
];

const ruvr = [
  [-2.3, -0.6, 0, 0.55, 2.35], [-2.9, -0.5, 0.3, 1.1, 3.6], [-2.4, -0.3, 0.2, 1.0, 2.6], [-2.9, -0.6, 0, 1.05, 3.4],
  [-3.0, -0.85, 0, 0.8, 2.8], [-3.1, -0.7, 0, 0.85, 3.3], [-2.5, -0.6, 0, 0.7, 2.55], [-2.8, -0.8, 0, 0.65, 2.8],
  [-2.5, -0.55, 0, 0.9, 3.1], [-2.9, -0.8, 0, 0.7, 3.05], [-2.5, -0.6, 0, 0.75, 2.7], [-4.4, -0.9, 0.1, 1.1, 4.65],
  [-2.9, -0.6, 0, 0.95, 3.35], [-2.5, -0.7, 0, 0.6, 2.5], [-2.7, -0.6, 0, 0.95, 2.85], [-3.1, -0.75, 0, 0.7, 3.6],
  [-3.3, -0.8, 0, 1.0, 3.6], [-2.8, -0.6, 0.1, 0.8, 3.0], [-3.5, -0.95, 0, 0.75, 3.4], [-2.5, -0.65, 0, 0.75, 2.8],
  [-2.7, -0.75, 0, 0.95, 2.7], [-3.1, -0.6, 0, 0.8, 3.1], [-2.6, -0.8, 0, 0.6, 2.8], [-3.3, -1.0, 0, 0.6, 3.0],
  [-3.2, -0.95, 0, 0.6, 3.1], [-2.6, -0.7, 0, 0.8, 3.0], [-2.8, -0.95, 0, 0.6, 3.0],
  [-3.1, -0.6, 0, 0.55, 2.9], [-2.6, -0.9, 0, 1.25, 3.0], [-4.6, -1.1, 0, 1.05, 4.75], [-3.3, -0.75, 0, 0.75, 3.3],
  [-3.0, -1.05, 0, 0.55, 3.2], [-2.9, -0.8, 0, 1.2, 3.2], [-3.2, -0.6, 0.35, 1.25, 4.05], [-3.3, -0.6, 0, 1.2, 3.9],
  [-2.8, -1.0, 0, 0.75, 3.0], [-3.8, -0.95, 0, 1.1, 3.8], [-3.2, -0.7, 0, 1.0, 3.6], [-3.4, -1.0, 0, 0.7, 3.0],
  [-3.1, -0.65, 0, 1.0, 3.4], [-2.9, -0.75, 0, 0.6, 2.8], [-3.0, -1.0, 0, 0.75, 2.9], [-2.8, -0.7, 0, 0.95, 3.0],
  [-3.3, -0.85, 0, 0.9, 3.8], [-3.4, -0.6, 0, 1.0, 3.65], [-3.9, -0.95, 0, 0.95, 3.8], [-3.2, -0.8, 0, 0.6, 3.4],
  [-3.1, -0.9, 0, 0.95, 3.3], [-3.8, -1.0, 0, 0.9, 3.6], [-3.3, -1.15, 0, 0.75, 4.05], [-4.0, -0.95, 0, 1.05, 3.6],
  [-3.4, -0.75, 0, 1.0, 3.3], [-3.3, -0.7, 0, 0.75, 3.5], [-3.0, -0.9, 0, 0.7, 3.0],
];

const ruvs = [
  [-1.8, 0, 0.7, 1.75, 4.25], [-1.0, -0.1, 0, 0.75, 2.0], [-1.9, 0, 0.3, 1.4, 3.45], [-1.0, 0, 0, 1.0, 2.2],
  [-1.0, -0.2, 0, 0.25, 0.9], [-2.4, 0, 0.85, 2.45, 6.05], [-2.15, 0, 0.35, 1.5, 3.7], [-1.0, 0, 0, 0.75, 1.8],
  [-0.8, 0, 0, 0.6, 1.5], [-1.0, 0, 0, 0.3, 0.9], [-1.9, 0, 0, 1.6, 3.9], [-1.8, -0.75, 0, 0, 0.8],
  [-0.8, -0.25, 0, 0.1, 0.6], [-1.2, 0, 0, 0.85, 2.1], [-1.2, 0, 0, 1.0, 2.25], [-1.7, -0.75, 0, 0, 0.7],
  [-1.2, -0.4, 0, 0.1, 1.0], [-1.0, -0.2, 0, 0.2, 0.7], [-1.2, 0, 0, 0.85, 2.1], [-1.2, 0, 0, 0.8, 2.05],
  [-0.7, -0.2, 0, 0.2, 0.6], [-1.4, -0.6, 0, 0, 1.3], [-1.4, 0, 0, 0.95, 2.35], [-1.2, -0.15, 0, 0.35, 1.3],
  [-3.1, -1.2, 0, 0, 1.8], [-2.5, -1.0, 0, 0, 1.5], [-3.1, -1.3, 0, 0, 2.0],
  [-4.2, 0, 0.5, 2.85, 6.6], [-1.3, 0, 0.55, 0.65, 1.6], [-3.15, 0, 0.65, 2.15, 5.35], [-1.5, 0, 0, 1.4, 3.0],
  [-2.2, -0.95, 0, 0, 0.85], [-1.3, 0, 0, 1.0, 2.45], [-1.6, 0, 0, 0.95, 2.3], [-1.3, 0, 0, 1.25, 3.0],
  [-3.3, -1.4, 0, 0, 1.1], [-2.0, -0.85, 0, 0, 0.85], [-1.7, -0.7, 0, 0.1, 1.0], [-2.9, -1.25, 0, 0, 0.9],
  [-1.9, 0, 1.1, 2.7, 6.6], [-2.2, -0.9, 0, 0.2, 1.4], [-1.4, 0, 0, 1.3, 3.2], [-1.2, -0.5, 0, 0.25, 0.8],
  [-1.0, -0.15, 0, 0.2, 0.8], [-1.3, -0.55, 0, 0, 0.8], [-2.8, -1.15, 0, 0, 1.6], [-1.3, -0.55, 0, 0, 1.3],
  [-3.8, -1.55, 0, 0, 2.3], [-1.2, 0, 0, 0.55, 1.5], [-5.0, -2.05, 0, 0, 2.8], [-1.0, 0, 0, 0.3, 1.2],
  [-2.2, 0, 0, 1.45, 3.65], [-1.0, -0.5, 0, 0, 0.7], [-2.4, -1.05, 0, 0, 1.5],
];

const panels = [
  benchmark, noNormalization, tmm, totalCount, upperQuantile, medianNorm, deseq,
  poissonSeq, quantileNoFilter, quantileFilter, sva, ruvg, ruvr, ruvs,
];

// ---------- layout & style ----------
const BLUE = '#0a75a9';
const RED = '#ad1a31';
const FONT = '"Liberation Sans", Arial, Helvetica, sans-serif';
const PX_PER_UNIT = 14.25;
const Y_MIN = -6.4;
const Y_MAX = 6.4;
const X_MIN = -2.55;
const X_MAX = 55.55;
const rowTick6Y = [66.7, 311.7, 563.7, 808, 1060.7, 1312.7, 1561];
const rowTitleGap = [35, 35, 41.7, 35, 42.4, 42.4, 37.3];
const cols = [
  { left: 92, width: 320 },
  { left: 536, width: 321 },
];

function fmtTick(v: number) {
  return v < 0 ? '\u2212' + Math.abs(v) : String(v);
}

function renderBox(params: any, api: any) {
  const i = api.value(0);
  const lo = api.coord([i, api.value(1)]);
  const q1 = api.coord([i, api.value(2)]);
  const md = api.coord([i, api.value(3)]);
  const q3 = api.coord([i, api.value(4)]);
  const hi = api.coord([i, api.value(5)]);
  const z = api.coord([i, 0]);
  const pitch = api.size([1, 0])[0];
  const bw = pitch * 0.86;
  const cx = lo[0];
  const color = i < MXF_COUNT ? BLUE : RED;
  const cap = 1.4;
  const wStyle = { stroke: '#222', lineWidth: 1 };
  return {
    type: 'group',
    children: [
      { type: 'line', shape: { x1: cx - pitch / 2, y1: z[1], x2: cx + pitch / 2, y2: z[1] }, style: { stroke: '#000', lineWidth: 1.2 } },
      { type: 'line', shape: { x1: cx, y1: hi[1], x2: cx, y2: lo[1] }, style: { ...wStyle, lineDash: [3, 2] } },
      { type: 'line', shape: { x1: cx - cap, y1: hi[1], x2: cx + cap, y2: hi[1] }, style: wStyle },
      { type: 'line', shape: { x1: cx - cap, y1: lo[1], x2: cx + cap, y2: lo[1] }, style: wStyle },
      { type: 'rect', shape: { x: cx - bw / 2, y: q3[1], width: bw, height: Math.max(q1[1] - q3[1], 0) }, style: { fill: color } },
      { type: 'line', shape: { x1: cx - bw * 0.42, y1: md[1], x2: cx + bw * 0.42, y2: md[1] }, style: { stroke: '#000', lineWidth: 1.5 } },
    ],
  };
}

function buildOption() {
  const grid: any[] = [];
  const xAxis: any[] = [];
  const yAxis: any[] = [];
  const series: any[] = [];
  const graphic: any[] = [];

  graphic.push({
    type: 'rect',
    shape: { x: 10, y: 7, width: 947, height: 1800 },
    style: { fill: 'none', stroke: '#000', lineWidth: 1.3 },
    silent: true,
  });

  panels.forEach((boxes, p) => {
    const row = Math.floor(p / 2);
    const col = cols[p % 2];
    const tick6 = rowTick6Y[row];
    const top = tick6 - (Y_MAX - 6) * PX_PER_UNIT;
    grid.push({ left: col.left, top, width: col.width, height: (Y_MAX - Y_MIN) * PX_PER_UNIT });
    xAxis.push({
      type: 'value', gridIndex: p, min: X_MIN, max: X_MAX,
      axisLine: { show: true, onZero: false, lineStyle: { color: '#000', width: 2.2 } },
      axisTick: { show: false }, axisLabel: { show: false }, splitLine: { show: false },
    });
    yAxis.push({
      type: 'value', gridIndex: p, min: Y_MIN, max: Y_MAX,
      axisLine: { show: true, onZero: false, lineStyle: { color: '#000', width: 1.6 } },
      axisTick: { show: true, length: 7, customValues: yTicks, lineStyle: { color: '#000', width: 1.2 } },
      axisLabel: { customValues: yTicks, formatter: fmtTick, fontSize: 15, color: '#111', fontFamily: FONT, margin: 13 },
      splitLine: { show: false },
    });
    series.push({
      type: 'custom', name: groups.join('/'), xAxisIndex: p, yAxisIndex: p, clip: true,
      renderItem: renderBox,
      encode: { x: 0, y: [1, 2, 3, 4, 5] },
      data: boxes.map((b, i) => [i, ...b]),
      silent: true,
    });
    // axis title "RLE" (condensed, rotated)
    graphic.push({
      type: 'text', x: col.left - 55.5, y: tick6 + 6 * PX_PER_UNIT,
      rotation: Math.PI / 2, scaleX: 0.74,
      style: { text: yLabel, fontSize: 25, fontFamily: FONT, fill: '#111', align: 'center', verticalAlign: 'middle' },
      silent: true,
    });
    const lines = titles[p];
    const cx = col.left + col.width / 2;
    const gap = rowTitleGap[row];
    lines.forEach((t, k) => {
      const y = lines.length === 1 ? tick6 - gap + 9.5 : tick6 - gap + k * 19;
      graphic.push({
        type: 'text', x: cx, y,
        style: { text: t, fontSize: 16, fontWeight: 'bold', fontFamily: FONT, fill: '#111', align: 'center', verticalAlign: 'middle' },
        silent: true,
      });
    });
  });

  // legend
  [BLUE, RED].forEach((c, k) => {
    graphic.push({ type: 'rect', shape: { x: 893, y: 64 + k * 23, width: 16, height: 16 }, style: { fill: c }, silent: true });
    graphic.push({
      type: 'text', x: 917, y: 72 + k * 23,
      style: { text: groups[k], fontSize: 14, fontFamily: FONT, fill: '#111', align: 'left', verticalAlign: 'middle' },
      silent: true,
    });
  });

  return { animation: false, backgroundColor: '#fff', grid, xAxis, yAxis, series, graphic };
}

export default function App() {
  const ref = useRef<HTMLDivElement>(null);
  useEffect(() => {
    if (!ref.current) return;
    const chart = echarts.init(ref.current, undefined, { renderer: 'svg' });
    chart.setOption(buildOption() as any);
    return () => chart.dispose();
  }, []);
  return <div ref={ref} style={{ position: 'absolute', left: 0, top: 0, width: 959, height: 1753, background: '#fff' }} />;
}
